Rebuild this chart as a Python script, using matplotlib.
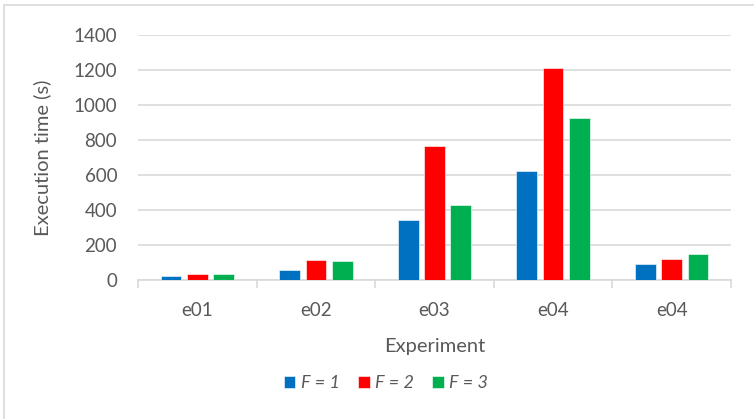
import numpy as np
import matplotlib
matplotlib.use("Agg")
import matplotlib.pyplot as plt
from matplotlib.patches import Rectangle

# Données
experiments = ["e01", "e02", "e03", "e04", "e04"]
series_names = ["F = 1", "F = 2", "F = 3"]
f1 = [25, 55, 341, 625, 91]
f2 = [32, 116, 766, 1210, 120]
f3 = [32, 107, 427, 928, 147]
colors = ["#0070C0", "#FF0000", "#00B050"]
y_ticks = [0, 200, 400, 600, 800, 1000, 1200, 1400]

plt.rcParams["font.family"] = ["Lato", "DejaVu Sans"]
text_gray = "#595959"
grid_gray = "#D9D9D9"

fig = plt.figure(figsize=(7.54, 4.19), dpi=100)
ax = fig.add_axes([138 / 754, 1 - 280 / 419, 593 / 754, 245 / 419])

# Cadre du graphique
fig.patches.append(Rectangle((4 / 754, -0.1), 1.2, 1 - 5 / 419 + 0.1,
                             transform=fig.transFigure, fill=False,
                             edgecolor=grid_gray, linewidth=1.2))

x = np.arange(len(experiments))
width = 0.175
step = 0.222
for i, (vals, name) in enumerate(zip([f1, f2, f3], series_names)):
    ax.bar(x + (i - 1) * step, vals, width, color=colors[i], label=name,
           edgecolor="white", linewidth=0.4, zorder=3)

ax.set_xlim(-0.5, len(experiments) - 0.5)
ax.set_ylim(0, 1400)
ax.set_yticks(y_ticks)
ax.yaxis.grid(True, color=grid_gray, linewidth=1.2, zorder=0)
ax.tick_params(axis="y", length=0, pad=15, labelsize=13.5, labelcolor=text_gray)

ax.set_xticks(x)
ax.set_xticklabels(experiments)
ax.set_xticks(np.arange(-0.5, len(experiments)), minor=True)
ax.tick_params(axis="x", which="major", length=0, pad=16, labelsize=13.5,
               labelcolor=text_gray)
ax.tick_params(axis="x", which="minor", length=6, width=1.2, color=grid_gray)

for side in ["top", "right", "left"]:
    ax.spines[side].set_visible(False)
ax.spines["bottom"].set_color(grid_gray)
ax.spines["bottom"].set_linewidth(1.2)

ax.set_ylabel("Execution time (s)", fontsize=14.5, color=text_gray)
ax.yaxis.set_label_coords((51 - 138) / 593, 0.5)
ax.set_xlabel("Experiment", fontsize=14.5, color=text_gray)
ax.xaxis.set_label_coords(0.5, (280 - 346) / 245)
ax.xaxis.label.set_va("center")

leg = fig.legend(loc="center", bbox_to_anchor=(386 / 754, 1 - 383 / 419), ncol=3,
                 frameon=False, handlelength=0.65, handleheight=0.65,
                 handletextpad=0.3, columnspacing=1.0,
                 prop={"size": 13, "style": "italic"})
for t in leg.get_texts():
    t.set_color(text_gray)

plt.savefig("out.png", dpi=100)
